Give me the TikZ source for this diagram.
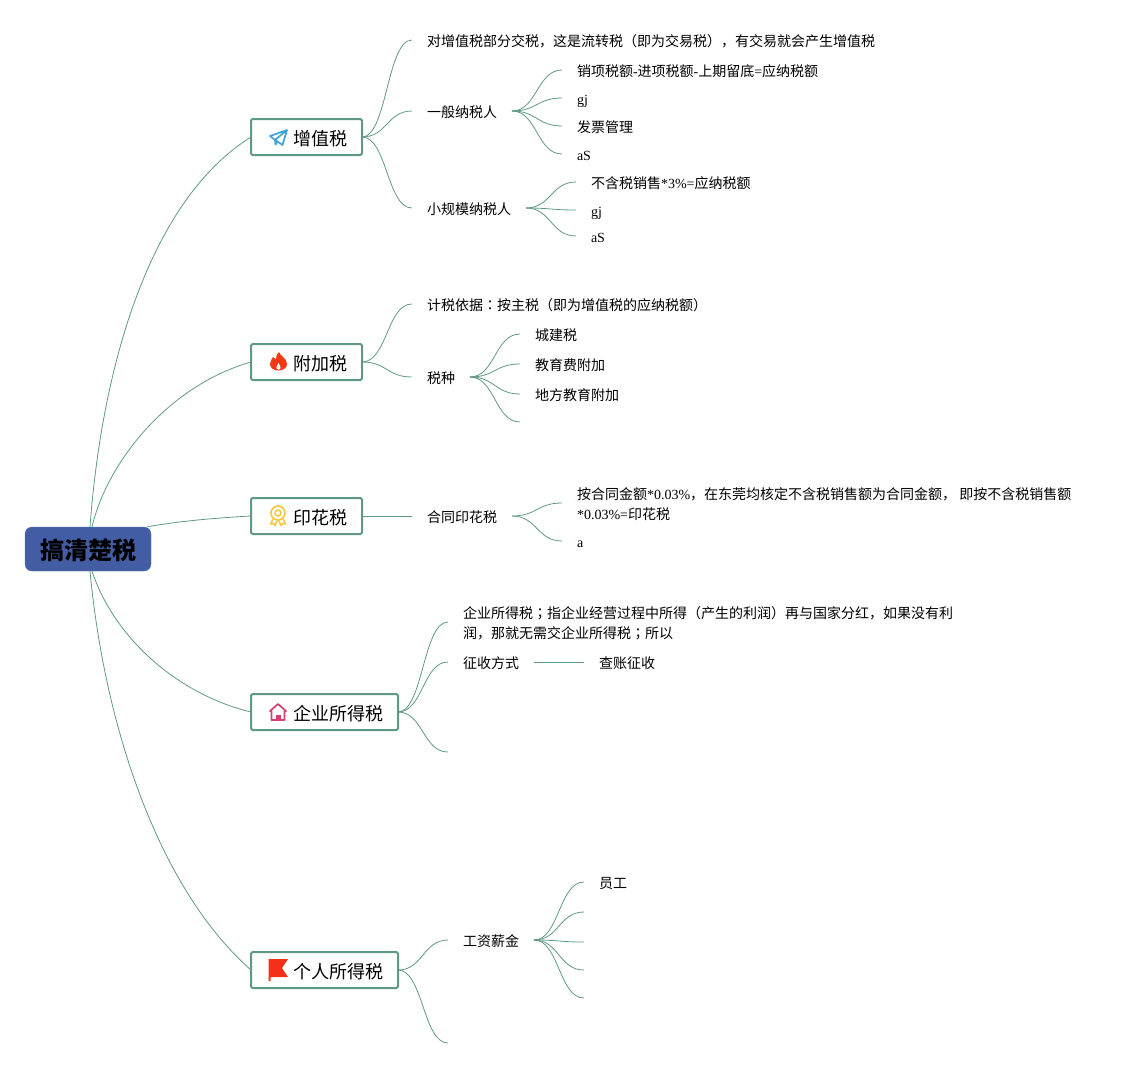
\documentclass[tikz,border=0pt]{standalone}
\usepackage{fontspec}
\setmainfont{Noto Sans CJK SC}
\newfontfamily\latinfont{Liberation Serif}
\newfontfamily\punctfont{Noto Sans CJK TC}
\newcommand{\lat}[1]{{\latinfont #1}}
\newcommand{\pun}[1]{{\punctfont #1}}
\usetikzlibrary{positioning}
\definecolor{linegreen}{RGB}{96,152,136}
\definecolor{rootblue}{RGB}{67,93,165}
\definecolor{planeblue}{RGB}{61,165,217}
\definecolor{firered}{RGB}{240,58,23}
\definecolor{ribbonyellow}{RGB}{246,201,69}
\definecolor{housepink}{RGB}{216,64,110}
\definecolor{flagred}{RGB}{245,48,26}
\tikzset{
  planeicon/.pic={
    \draw[planeblue, line width=1.7pt, line join=round] (9,-7) -- (-8,-1) -- (-3,3) -- (9,-7) -- (4.5,8) -- (-0.5,4.5) -- (-3,3) -- (-2.5,7.5) -- (-0.5,4.5);
  },
  fireicon/.pic={
    \fill[firered] (1,-10) .. controls (2,-6) and (9,-4) .. (9,2) .. controls (9,6) and (5,8.5) .. (0.5,8.5) .. controls (-4.5,8.5) and (-8,6) .. (-8,2) .. controls (-8,-1) and (-6,-3) .. (-5,-5) .. controls (-4,-4) and (-3,-3) .. (-2,-3) .. controls (-2,-6) and (-1,-8) .. (1,-10);
    \fill[white] (0.5,1) .. controls (1,3) and (3,4) .. (2.6,6) .. controls (2.2,8.5) and (-1.2,8.5) .. (-1.6,6) .. controls (-2,4) and (0,3) .. (0.5,1);
  },
  ribbonicon/.pic={
    \draw[ribbonyellow, line width=1.7pt] (0,-3) circle (7pt);
    \draw[ribbonyellow, line width=1.6pt] (0,-3) circle (3pt);
    \draw[ribbonyellow, line width=1.6pt, line join=round] (-5,3) -- (-7.5,8) -- (-4.5,7.5) -- (-3,9.5) -- (-1,5);
    \draw[ribbonyellow, line width=1.6pt, line join=round] (5,3) -- (7.5,8) -- (4.5,7.5) -- (3,9.5) -- (1,5);
  },
  houseicon/.pic={
    \draw[housepink, line width=1.7pt, line join=round] (-6.5,8) -- (-6.5,-1) -- (-8,-1) -- (0,-8) -- (8,-1) -- (6.5,-1) -- (6.5,8) -- cycle;
    \fill[housepink] (-2.5,8) rectangle (2.5,2.5);
  },
  flagicon/.pic={
    \fill[flagred] (-9.5,-11) -- (10,-11) -- (4,-2) -- (10,7) -- (-7.5,7) -- (-7.5,11) -- (-9.5,11) -- cycle;
  }
}
\begin{document}
\begin{tikzpicture}[
  x=1pt, y=-1pt,
  rootbox/.style={draw=rootblue!85, fill=rootblue, rounded corners=7pt, minimum width=126pt, minimum height=44pt,
                  inner sep=0pt, text height=24pt, text depth=3pt, font=\fontsize{24}{24}\selectfont\bfseries},
  topicbox/.style={anchor=west, draw=linegreen, line width=2pt, rounded corners=1.5pt, fill=white, outer sep=0pt,
                   minimum height=36pt, inner xsep=15pt, inner ysep=0pt, text height=18pt, text depth=2pt,
                   font=\fontsize{18}{18}\selectfont, execute at begin node=\hspace*{27pt}},
  leaf/.style={anchor=west, inner xsep=15pt, inner ysep=0pt, outer sep=0pt, text height=14pt, text depth=2pt,
               font=\fontsize{14}{20}\selectfont},
  para/.style={anchor=west, inner xsep=15pt, inner ysep=0pt, outer sep=0pt, align=left,
               font=\fontsize{14}{20}\selectfont},
  rootlink/.style={draw=linegreen, line width=0.8pt},
  link/.style={draw=linegreen, line width=0.8pt, to path={.. controls +(25,0) and +(-25,0) .. (\tikztotarget)}}
]
\useasboundingbox (0,0) rectangle (1137,1068);
\node[rootbox] (root) at (88,549) {搞清楚税};

\node[topicbox] (vat) at (251,137) {增值税};
\node[topicbox] (surtax) at (251,362) {附加税};
\node[topicbox] (stamp) at (251,516) {印花税};
\node[topicbox] (corp) at (251,712) {企业所得税};
\node[topicbox] (pers) at (251,970) {个人所得税};

\pic at ([xshift=27pt]vat.west) {planeicon};
\pic at ([xshift=27pt]surtax.west) {fireicon};
\pic at ([xshift=27pt]stamp.west) {ribbonicon};
\pic at ([xshift=27pt]corp.west) {houseicon};
\pic at ([xshift=27pt]pers.west) {flagicon};

\node[leaf] (vatnote) at (412,40) {对增值税部分交税，这是流转税（即为交易税），有交易就会产生增值税};
\node[leaf] (general) at (412,111) {一般纳税人};
\node[leaf] (small) at (412,208) {小规模纳税人};
\node[leaf] (gen1) at (562,70) {销项税额\lat{-}进项税额\lat{-}上期留底\lat{=}应纳税额};
\node[leaf] (gen2) at (562,98) {\lat{gj}};
\node[leaf] (gen3) at (562,126) {发票管理};
\node[leaf] (gen4) at (562,154) {\lat{aS}};
\node[leaf] (small1) at (576,182) {不含税销售\lat{*3\%=}应纳税额};
\node[leaf] (small2) at (576,210) {\lat{gj}};
\node[leaf] (small3) at (576,236) {\lat{aS}};

\node[leaf] (basis) at (412,304) {计税依据\pun{：}按主税（即为增值税的应纳税额）};
\node[leaf] (kinds) at (412,377) {税种};
\node[leaf] (kind1) at (520,334) {城建税};
\node[leaf] (kind2) at (520,364) {教育费附加};
\node[leaf] (kind3) at (520,394) {地方教育附加};
\coordinate (kind4) at (520,422);

\node[leaf] (contract) at (412,516) {合同印花税};
\node[para] (contract1) at (562,504) {按合同金额\lat{*0.03\%}，在东莞均核定不含税销售额为合同金额， 即按不含税销售额\\\lat{*0.03\%=}印花税};
\node[leaf] (contract2) at (562,541) {\lat{a}};

\node[para] (corpnote) at (448,623) {企业所得税\pun{；}指企业经营过程中所得（产生的利润）再与国家分红，如果没有利\\润，那就无需交企业所得税\pun{；}所以};
\node[leaf] (levy) at (448,662) {征收方式};
\node[leaf] (audit) at (584,662) {查账征收};
\coordinate (corpend) at (448,752);

\node[leaf] (wage) at (448,940) {工资薪金};
\coordinate (persend) at (448,1043);
\node[leaf] (staff) at (584,882) {员工};
\coordinate (wage2) at (584,912);
\coordinate (wage3) at (584,942);
\coordinate (wage4) at (584,970);
\coordinate (wage5) at (584,998);

\draw[rootlink] ([xshift=2pt]root.north) .. controls (102,365) and (150,200) .. (vat.west);
\draw[rootlink] ([xshift=4pt]root.north) .. controls (108,460) and (170,385) .. (surtax.west);
\draw[rootlink] ([xshift=-4pt]root.north east) .. controls (180,521) and (215,518) .. (stamp.west);
\draw[rootlink] ([xshift=4pt]root.south) .. controls (115,640) and (180,695) .. (corp.west);
\draw[rootlink] ([xshift=2pt]root.south) .. controls (105,730) and (160,890) .. (pers.west);

\draw[link] (vat.east) to (vatnote.west);
\draw[link] (vat.east) to (general.west);
\draw[link] (vat.east) to (small.west);
\draw[link] (general.east) to (gen1.west);
\draw[link] (general.east) to (gen2.west);
\draw[link] (general.east) to (gen3.west);
\draw[link] (general.east) to (gen4.west);
\draw[link] (small.east) to (small1.west);
\draw[link] (small.east) to (small2.west);
\draw[link] (small.east) to (small3.west);

\draw[link] (surtax.east) to (basis.west);
\draw[link] (surtax.east) to (kinds.west);
\draw[link] (kinds.east) to (kind1.west);
\draw[link] (kinds.east) to (kind2.west);
\draw[link] (kinds.east) to (kind3.west);
\draw[link] (kinds.east) to (kind4);

\draw[link] (stamp.east) to (contract.west);
\draw[link] (contract.east) to ([yshift=1pt]contract1.west);
\draw[link] (contract.east) to (contract2.west);

\draw[link] (corp.east) to ([yshift=1pt]corpnote.west);
\draw[link] (corp.east) to (levy.west);
\draw[link] (corp.east) to (corpend);
\draw[link] (levy.east) to (audit.west);

\draw[link] (pers.east) to (wage.west);
\draw[link] (pers.east) to (persend);
\draw[link] (wage.east) to (staff.west);
\draw[link] (wage.east) to (wage2);
\draw[link] (wage.east) to (wage3);
\draw[link] (wage.east) to (wage4);
\draw[link] (wage.east) to (wage5);
\end{tikzpicture}
\end{document}
